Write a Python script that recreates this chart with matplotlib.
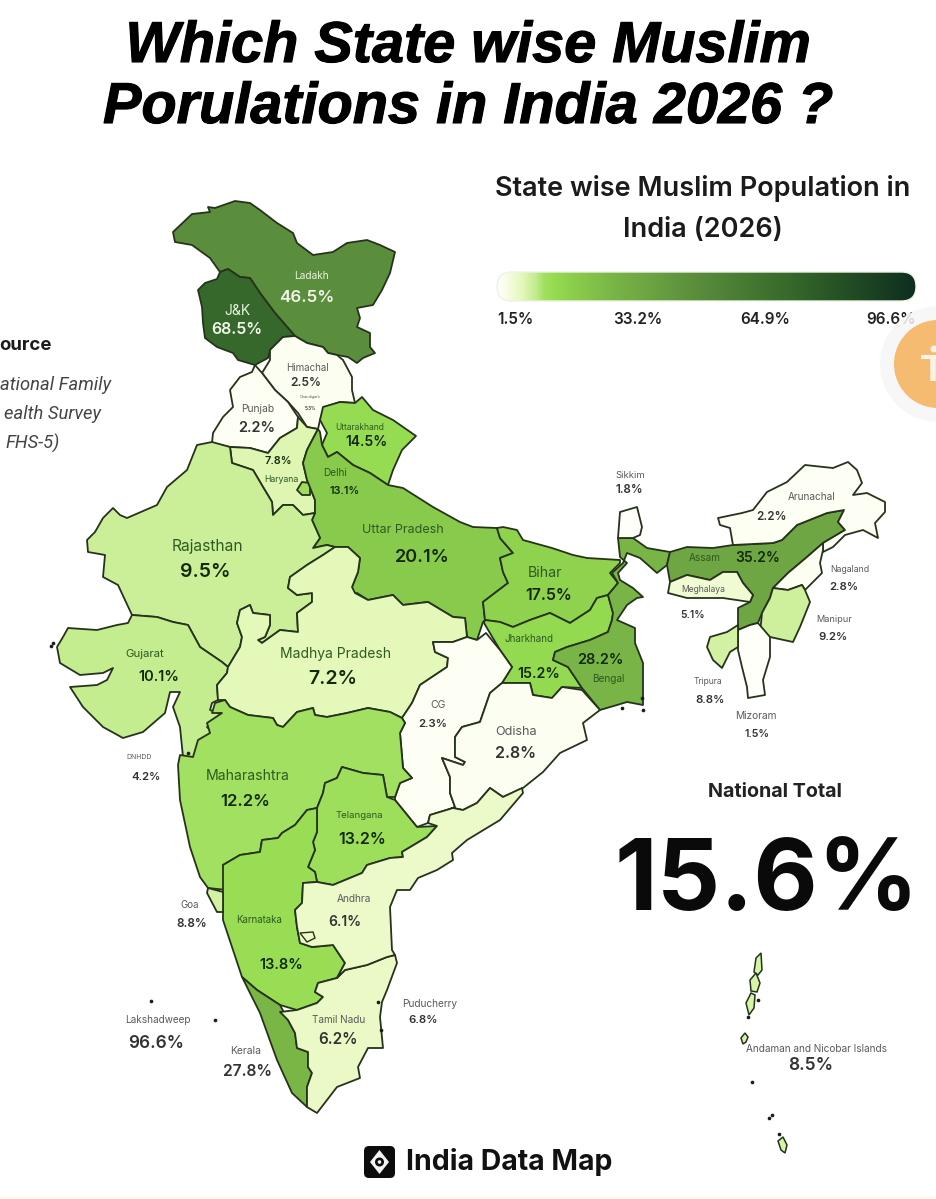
import numpy as np
import matplotlib
matplotlib.use('Agg')
import matplotlib.pyplot as plt
import matplotlib.patheffects as pe
from matplotlib.colors import LinearSegmentedColormap, Normalize
from matplotlib.patches import Polygon, Circle, FancyBboxPatch, Rectangle

plt.rcParams['font.family'] = ['Inter', 'DejaVu Sans']

# state values, % muslim population as printed on the map
states = ['Ladakh', 'J&K', 'Himachal', 'Punjab', 'Uttarakhand', 'Haryana', 'Delhi', 'Uttar Pradesh',
          'Rajasthan', 'Gujarat', 'Madhya Pradesh', 'Bihar', 'Jharkhand', 'Bengal', 'Sikkim', 'Assam',
          'Meghalaya', 'Arunachal', 'Nagaland', 'Manipur', 'Mizoram', 'Tripura', 'CG', 'Odisha',
          'Maharashtra', 'Telangana', 'Karnataka', 'Goa', 'Kerala', 'Tamil Nadu', 'Andhra']
values = [46.5, 68.5, 2.5, 2.2, 14.5, 7.8, 13.1, 20.1,
          9.5, 10.1, 7.2, 17.5, 15.2, 28.2, 1.8, 35.2,
          5.1, 2.2, 2.8, 9.2, 1.5, 8.8, 2.3, 2.8,
          12.2, 13.2, 13.8, 8.8, 27.8, 6.2, 6.1]
islands_value = 8.5
national_total = '15.6%'
scale_ticks = ['1.5%', '33.2%', '64.9%', '96.6%']

# colour ramp (value -> colour)
ramp_values = [1.5, 3, 7, 10.2, 12, 14, 20, 28, 35, 46.5, 68.5, 96.6]
ramp_colors = ['#fefff9', '#fbfeee', '#e5f8bb', '#c2ec8e', '#a3e062', '#97dd52', '#88ca4c', '#78b546', '#6ea643',
               '#5a8e3c', '#35682a', '#0e2e20']

# outlines, in image pixels
outlines = {
    'Ladakh': [(173,232),(192,214),(210,212),(208,207),(215,208),(235,201),(250,203),(260,210),(277,223),(293,233),(297,243),(313,255),(333,252),(347,243),(367,240),(380,245),(395,252),(390,273),(382,290),(373,305),(357,308),(360,318),(357,327),(370,333),(370,347),(375,353),(363,358),(357,363),(348,357),(337,355),(328,353),(323,347),(307,343),(295,336),(275,313),(260,293),(250,278),(240,277),(228,269),(220,272),(210,258),(192,245),(175,242)],
    'J&K': [(228,269),(240,277),(250,278),(260,293),(275,313),(295,336),(283,337),(270,350),(268,358),(255,365),(238,360),(233,353),(217,347),(205,338),(203,323),(202,307),(198,290),(205,283),(217,279),(220,272)],
    'Himachal': [(295,336),(307,343),(323,347),(328,353),(337,355),(343,360),(352,377),(352,390),(355,403),(340,402),(325,407),(320,420),(318,429),(307,427),(298,413),(288,402),(275,390),(262,373),(270,360),(270,350),(283,337)],
    'Punjab': [(255,365),(262,373),(275,390),(288,402),(298,417),(297,428),(280,438),(268,453),(250,448),(230,447),(212,443),(213,433),(223,417),(233,407),(230,390),(240,377),(252,372)],
    'Uttarakhand': [(323,407),(340,402),(355,403),(362,397),(373,410),(393,420),(416,436),(402,450),(393,470),(388,485),(370,473),(353,465),(337,452),(328,457),(322,445),(327,433),(320,420)],
    'Haryana': [(298,417),(307,427),(318,429),(307,450),(303,463),(307,480),(315,500),(315,513),(303,515),(293,505),(283,505),(273,515),(272,502),(263,487),(253,470),(232,463),(230,447),(250,448),(268,453),(280,438),(297,428)],
    'Delhi': [(297,490),(302,482),(310,483),(310,495),(302,495)],
    'Uttar Pradesh': [(318,429),(320,432),(322,445),(328,457),(337,452),(353,465),(370,473),(388,485),(403,488),(433,507),(460,522),(473,527),(497,528),(500,538),(513,553),(500,558),(503,572),(508,583),(483,602),(485,620),(483,622),(477,640),(467,637),(465,618),(453,617),(428,602),(403,605),(393,595),(368,600),(357,593),(350,595),(358,622),(355,631),(345,625),(335,612),(340,592),(352,587),(358,572),(360,558),(348,547),(335,547),(327,545),(313,548),(320,538),(312,520),(315,513),(315,500),(307,480),(303,463),(307,450)],
    'Rajasthan': [(212,442),(197,445),(187,470),(167,487),(157,505),(127,518),(120,515),(113,508),(103,518),(95,532),(87,540),(88,552),(105,555),(103,577),(118,585),(132,615),(157,617),(173,622),(188,625),(200,647),(222,662),(228,667),(240,647),(242,637),(237,623),(240,610),(250,605),(253,613),(270,615),(270,625),(265,637),(258,640),(262,643),(280,630),(298,632),(297,613),(312,602),(312,593),(297,595),(288,588),(290,577),(307,565),(323,555),(335,547),(327,545),(313,548),(320,538),(312,520),(315,513),(303,515),(293,505),(283,505),(273,515),(272,502),(263,487),(253,470),(232,463),(230,447)],
    'Gujarat': [(132,615),(128,623),(117,625),(97,630),(68,628),(63,637),(57,647),(60,663),(80,675),(103,673),(113,668),(107,680),(97,685),(70,687),(83,707),(103,727),(123,738),(143,732),(165,713),(170,692),(180,692),(173,707),(180,727),(183,757),(195,757),(203,742),(213,733),(207,727),(223,715),(210,710),(212,703),(218,700),(217,685),(227,673),(228,667),(222,662),(200,647),(188,625),(173,622),(157,617)],
    'Madhya Pradesh': [(335,547),(348,547),(360,558),(358,572),(352,587),(355,593),(368,600),(393,595),(403,605),(428,602),(453,617),(465,618),(467,637),(453,642),(433,642),(435,652),(448,658),(447,667),(420,685),(412,703),(402,718),(390,712),(368,708),(347,713),(327,717),(315,715),(313,708),(297,712),(283,727),(277,725),(273,718),(248,715),(230,707),(225,700),(218,700),(217,685),(227,673),(228,667),(240,647),(242,637),(237,623),(240,610),(250,605),(253,613),(270,615),(270,625),(265,637),(258,640),(262,643),(280,630),(298,632),(297,613),(312,602),(312,593),(297,595),(288,588),(290,577),(307,565),(323,555)],
    'Bihar': [(497,528),(500,538),(513,553),(500,558),(503,572),(508,583),(483,602),(485,620),(500,622),(513,627),(530,620),(550,613),(570,623),(590,610),(597,598),(608,595),(618,583),(610,573),(620,563),(620,560),(587,558),(573,555),(552,548),(523,540),(517,530),(503,527)],
    'Jharkhand': [(485,620),(500,622),(513,627),(530,620),(550,613),(570,623),(590,610),(597,598),(608,595),(613,613),(612,620),(608,632),(590,640),(567,647),(555,652),(553,660),(568,667),(582,688),(562,687),(552,698),(533,695),(530,683),(502,683),(512,667),(500,650),(484,623)],
    'Bengal': [(618,538),(633,538),(647,548),(670,552),(667,565),(657,573),(648,565),(640,558),(627,553),(623,563),(612,573),(618,583),(608,595),(613,613),(612,620),(608,632),(590,640),(567,647),(555,652),(553,660),(568,667),(582,688),(600,710),(617,705),(627,702),(643,705),(643,663),(635,643),(635,628),(617,620),(627,605),(637,598),(643,597),(633,588),(620,580),(618,573),(627,563),(620,557)],
    'Sikkim': [(618,538),(620,512),(637,507),(642,527),(640,535),(633,538)],
    'Assam': [(670,552),(687,547),(713,548),(733,545),(773,543),(782,540),(797,525),(827,513),(844,510),(838,522),(845,530),(823,543),(807,557),(788,573),(773,588),(770,598),(762,613),(758,623),(750,625),(738,630),(738,608),(750,602),(753,595),(743,583),(737,572),(723,572),(710,580),(687,575),(670,582),(667,565)],
    'Meghalaya': [(670,582),(687,575),(710,580),(723,572),(737,572),(743,583),(753,595),(750,602),(723,598),(687,598),(668,593)],
    'Arunachal': [(733,545),(730,528),(720,525),(718,518),(742,513),(753,510),(767,492),(787,482),(805,465),(833,468),(848,462),(857,470),(862,483),(853,495),(867,493),(885,502),(885,512),(875,523),(878,538),(863,530),(845,535),(833,547),(823,552),(823,543),(845,530),(838,522),(844,510),(827,513),(797,525),(782,540),(773,543)],
    'Nagaland': [(823,543),(823,550),(820,563),(822,573),(805,590),(802,585),(788,590),(773,588),(788,573),(807,557)],
    'Manipur': [(788,590),(802,585),(805,590),(810,602),(800,627),(793,642),(770,637),(760,633),(762,613),(770,598),(773,588)],
    'Mizoram': [(738,630),(750,625),(758,623),(770,637),(770,657),(763,680),(765,695),(748,698),(747,687),(742,667),(738,650)],
    'Tripura': [(738,625),(738,647),(730,652),(722,668),(713,660),(707,647),(710,637),(727,632)],
    'CG': [(433,642),(453,642),(467,637),(477,640),(486,633),(500,650),(512,667),(502,683),(490,693),(480,722),(462,727),(455,737),(455,757),(465,762),(463,765),(442,758),(450,777),(450,793),(455,807),(437,815),(428,823),(417,827),(395,800),(395,797),(400,783),(412,778),(403,768),(400,733),(405,723),(402,718),(412,703),(420,685),(447,667),(448,658),(435,652)],
    'Odisha': [(502,683),(530,683),(533,695),(552,698),(562,687),(582,690),(600,710),(583,723),(587,740),(560,753),(543,772),(523,788),(503,797),(490,788),(477,803),(463,810),(453,808),(430,815),(428,823),(437,815),(455,807),(450,793),(450,777),(442,758),(463,765),(465,762),(455,757),(455,737),(462,727),(480,722),(490,693)],
    'Maharashtra': [(178,765),(180,755),(193,757),(198,740),(210,733),(207,723),(222,713),(212,713),(215,703),(225,700),(230,707),(248,715),(273,718),(277,725),(283,727),(297,712),(313,708),(315,715),(327,717),(347,713),(368,708),(390,712),(402,718),(405,723),(400,733),(403,768),(412,778),(400,783),(395,797),(387,797),(383,775),(363,773),(342,767),(337,778),(325,783),(323,793),(317,808),(307,810),(295,825),(282,833),(278,838),(262,840),(260,852),(240,855),(223,865),(227,890),(208,888),(200,877),(190,847),(180,800)],
    'Telangana': [(342,767),(363,773),(383,775),(387,797),(395,800),(417,827),(437,826),(427,837),(402,852),(403,857),(390,858),(367,865),(362,873),(333,885),(317,882),(315,872),(308,867),(315,850),(313,842),(317,832),(317,808),(323,793),(325,783),(337,778)],
    'Karnataka': [(223,865),(240,855),(260,852),(262,840),(278,838),(282,833),(295,825),(307,810),(317,808),(317,832),(313,842),(315,850),(308,867),(315,872),(317,882),(303,883),(302,903),(295,910),(297,927),(300,943),(312,947),(333,945),(345,963),(337,978),(318,983),(315,992),(323,997),(317,1003),(297,1010),(280,1005),(257,990),(242,977),(223,920),(223,890)],
    'Goa': [(208,888),(223,892),(223,912),(217,912),(207,893)],
    'Kerala': [(242,977),(257,990),(280,1005),(288,1020),(295,1033),(297,1048),(308,1052),(308,1067),(312,1073),(307,1087),(307,1107),(292,1093),(277,1060),(260,1013)],
    'Tamil Nadu': [(280,1012),(297,1010),(317,1003),(323,997),(315,992),(318,983),(337,978),(345,970),(367,965),(387,957),(395,955),(397,963),(387,990),(382,1002),(380,1017),(383,1048),(368,1048),(358,1067),(360,1078),(337,1087),(317,1113),(307,1107),(307,1087),(312,1073),(308,1067),(308,1052),(297,1048),(295,1033),(288,1020)],
    'Andhra': [(317,882),(333,885),(362,873),(367,865),(390,858),(403,857),(402,852),(427,837),(437,826),(428,823),(430,815),(453,808),(463,810),(477,803),(490,788),(503,797),(522,788),(523,793),(500,820),(467,840),(452,853),(453,860),(437,870),(418,878),(410,890),(397,890),(390,907),(392,950),(395,955),(387,957),(367,965),(345,970),(337,978),(345,963),(333,945),(312,947),(300,943),(297,927),(295,910),(302,903),(303,883)],
}
bangalore_patch = [(300,933),(313,932),(315,938),(307,942)]
island_shapes = [
    [(754,972),(756,958),(761,953),(762,970),(758,975)],
    [(750,980),(756,973),(760,983),(757,992),(751,991)],
    [(746,1003),(751,993),(755,995),(754,1008),(749,1015)],
    [(741,1038),(745,1033),(748,1037),(746,1042),(743,1044)],
    [(778,1141),(783,1137),(787,1145),(785,1153),(781,1150)],
]
# tiny specks that come out black on the map
specks = [(752,1082),(772,1115),(769,1118),(779,1134),(758,1000),(748,1017),(151,1001),(215,1020),
          (378,1002),(381,1030),(53,643),(642,698),(622,708),(643,710),(188,753),(51,646)]

# name, name x, y, size, value text, value x, y, size, tone
labels = [
    ('Ladakh', 311,276,7.3, '46.5%', 307,298,12.2, 'light'),
    ('J&K', 237,311,10, '68.5%', 237,329,11.5, 'light'),
    ('Himachal', 307,368,7.0, '2.5%', 306,383,8.6, 'off'),
    ('Chandigarh', 310,397,2.8, '5.3%', 310,409,3.2, 'off'),
    ('Punjab', 258,409,7.4, '2.2%', 257,428,10.5, 'off'),
    ('Uttarakhand', 360,427,6.1, '14.5%', 366,442,10, 'green'),
    ('Haryana', 281,480,6.3, '7.8%', 278,461,7.8, 'green'),
    ('Delhi', 335,473,7.3, '13.1%', 345,491,7.8, 'green'),
    ('Uttar Pradesh', 403,530,9, '20.1%', 422,557,13, 'green'),
    ('Rajasthan', 207,546,11.2, '9.5%', 205,572,14, 'green'),
    ('Gujarat', 145,654,8.2, '10.1%', 159,677,10.5, 'green'),
    ('Madhya Pradesh', 336,654,10, '7.2%', 333,679,14, 'green'),
    ('Bihar', 545,573,10.2, '17.5%', 549,596,11.5, 'green'),
    ('Jharkhand', 529,639,7.1, '15.2%', 539,674,10.3, 'green'),
    ('Bengal', 608,679,7.2, '28.2%', 600,660,10.5, 'green'),
    ('Sikkim', 630,475,6.9, '1.8%', 629,490,8.3, 'off'),
    ('Assam', 705,558,7.2, '35.2%', 758,558,10, 'green'),
    ('Arunachal', 812,497,7.2, '2.2%', 771,517,8.4, 'off'),
    ('Nagaland', 850,570,6.3, '2.8%', 844,587,8.2, 'off'),
    ('Meghalaya', 703,590,6.2, '5.1%', 693,615,7.4, 'off'),
    ('Manipur', 834,620,6.6, '9.2%', 833,637,8.2, 'off'),
    ('Tripura', 708,682,6.1, '8.8%', 710,700,8.2, 'off'),
    ('Mizoram', 756,716,7.3, '1.5%', 757,734,7.7, 'off'),
    ('Odisha', 516,732,9.1, '2.8%', 516,753,11.5, 'off'),
    ('CG', 438,705,7.5, '2.3%', 433,724,8.2, 'off'),
    ('DNHDD', 139,757,5, '4.2%', 146,777,8.2, 'off'),
    ('Maharashtra', 248,776,10.1, '12.2%', 245,801,12, 'green'),
    ('Telangana', 359,815,6.9, '13.2%', 362,839,11.5, 'green'),
    ('Goa', 190,905,7, '8.8%', 192,924,8.4, 'off'),
    ('Andhra', 354,899,7.3, '6.1%', 345,922,10, 'off'),
    ('Karnataka', 259,920,7, '13.8%', 281,965,10.5, 'green'),
    ('Lakshadweep', 158,1020,7.2, '96.6%', 156,1044,12.4, 'off'),
    ('Kerala', 246,1051,7.4, '27.8%', 247,1072,11.2, 'off'),
    ('Tamil Nadu', 339,1020,7.2, '6.2%', 338,1040,11, 'off'),
    ('Puducherry', 430,1004,7.3, '6.8%', 423,1020,8.2, 'off'),
    ('Andaman and Nicobar Islands', 816,1049,7.2, '8.5%', 811,1065,12.5, 'off'),
]
name_tone = {'light': '#e8f2e0', 'green': '#2f5a22', 'off': '#5a5a5a'}
value_tone = {'light': '#f2f7ec', 'green': '#14290c', 'off': '#333333'}

fig = plt.figure(figsize=(9.36, 11.99), dpi=100)
ax = fig.add_axes([0, 0, 1, 1])

norm = Normalize(1.5, 96.6)
stops = [(norm(v), c) for v, c in zip(ramp_values, ramp_colors)]
cmap = LinearSegmentedColormap.from_list('share', stops, N=512)
edge = '#26331c'

# map
for name, val in zip(states, values):
    ax.add_patch(Polygon(outlines[name], closed=True, facecolor=cmap(norm(val)), edgecolor=edge,
                         linewidth=1.3, joinstyle='round'))
ax.add_patch(Polygon(bangalore_patch, closed=True, facecolor=cmap(norm(6.1)), edgecolor=edge, linewidth=1.0))
for shape in island_shapes:
    ax.add_patch(Polygon(shape, closed=True, facecolor=cmap(norm(islands_value)), edgecolor=edge, linewidth=1.1))
ax.scatter([p[0] for p in specks], [p[1] for p in specks], s=7, color='#1c1c1c', linewidths=0, zorder=3)

for name, nx, ny, nsize, val, vx, vy, vsize, tone in labels:
    ax.text(nx, ny, name, fontsize=nsize, color=name_tone[tone], ha='center', va='center')
    ax.text(vx, vy, val, fontsize=vsize, color=value_tone[tone], ha='center', va='center', fontweight='semibold')

# title
title_fx = [pe.withStroke(linewidth=0.8, foreground='#000000')]
for txt, y in [('Which State wise Muslim', 47), ('Porulations in India 2026 ?', 108)]:
    ax.text(468, y, txt, family='Liberation Sans', fontsize=41.5, fontweight='bold', fontstyle='italic',
            color='#000000', ha='center', va='center', path_effects=title_fx)

# legend
ax.text(703, 189, 'State wise Muslim Population in', fontsize=19.5, fontweight='semibold', color='#1b1b1b', ha='center', va='center')
ax.text(703, 230, 'India (2026)', fontsize=19.5, fontweight='semibold', color='#1b1b1b', ha='center', va='center')
bar_box = FancyBboxPatch((497, 272), 419, 29, boxstyle='round,pad=0,rounding_size=14.5',
                         facecolor='none', edgecolor='#eef2e2', linewidth=1.0, zorder=4)
ax.add_patch(bar_box)
grad = np.linspace(1.5, 96.6, 512).reshape(1, -1)
im = ax.imshow(grad, cmap=cmap, norm=norm, extent=(497, 916, 301, 272), aspect='auto', zorder=3)
im.set_clip_path(bar_box)
tick_pos = [(497, 'left'), (638, 'center'), (765, 'center'), (916, 'right')]
for tick, (x, ha) in zip(scale_ticks, tick_pos):
    ax.text(x, 319, tick, fontsize=11, fontweight='semibold', color='#222222', ha=ha, va='center')

# floating accessibility button sitting over the legend corner
ax.add_patch(Circle((938, 364), 58, facecolor='#f6f6f6', edgecolor='none', alpha=0.85, zorder=5))
ax.add_patch(Circle((938, 364), 44, facecolor='#f5bb70', edgecolor='none', zorder=6))
ax.add_patch(Circle((934, 349), 3.5, facecolor='#fdf3e4', edgecolor='none', zorder=7))
ax.plot([921, 936], [357, 357], color='#fdf3e4', lw=3, zorder=7, solid_capstyle='butt')
ax.plot([933, 933], [357, 381], color='#fdf3e4', lw=4, zorder=7, solid_capstyle='butt')

# source block, only the part the picture shows
ax.text(52, 345, 'ource', fontsize=13.4, fontweight='bold', color='#1b1b1b', ha='right', va='center')
for txt, x, y in [('ational Family', 111, 385), ('ealth Survey', 101, 414), ('FHS-5)', 60, 443)]:
    ax.text(x, y, txt, family='Roboto', fontsize=13.2, fontstyle='italic', color='#444444', ha='right', va='center')

# national total
ax.text(775, 792, 'National Total', fontsize=14.2, fontweight='bold', color='#222222', ha='center', va='center')
ax.text(767, 884, national_total, fontsize=71.5, fontweight='bold', color='#0a0a0a', ha='center', va='center')

# brand
ax.add_patch(FancyBboxPatch((364, 1146), 31, 32, boxstyle='round,pad=0,rounding_size=5', facecolor='#0c0c0c', edgecolor='none'))
ax.add_patch(Polygon([(379.5, 1150), (389, 1162), (379.5, 1174), (370, 1162)], closed=True, facecolor='#f2f2f2', edgecolor='none'))
ax.add_patch(Circle((379.5, 1162), 4.5, facecolor='#0c0c0c', edgecolor='none'))
ax.add_patch(Circle((379.5, 1162), 1.8, facecolor='#f2f2f2', edgecolor='none'))
ax.text(406, 1162, 'India Data Map', fontsize=20.5, fontweight='bold', color='#111111', ha='left', va='center')

ax.add_patch(Rectangle((0, 1196), 936, 3, facecolor='#fdfbef', edgecolor='none'))

ax.set_xlim(0, 936)
ax.set_ylim(1199, 0)
ax.axis('off')
fig.savefig('out.png', dpi=100, facecolor='white')
